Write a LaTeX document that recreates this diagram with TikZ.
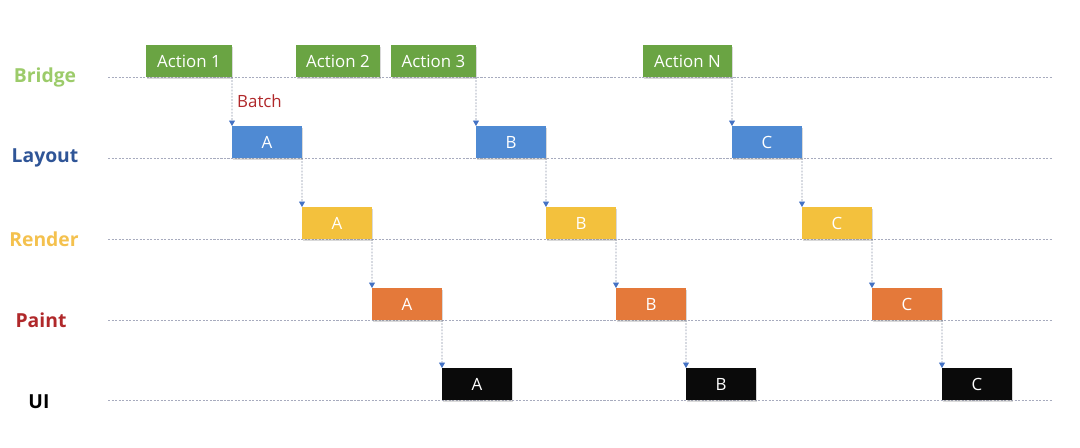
\documentclass[tikz,border=0pt]{standalone}
\usepackage{fontspec}
\setmainfont{Open Sans}
\usetikzlibrary{positioning,arrows.meta,shadows}

\definecolor{actgreen}{HTML}{6AA443}
\definecolor{layblue}{HTML}{4F8AD3}
\definecolor{renyellow}{HTML}{F3C13D}
\definecolor{paintorange}{HTML}{E4793A}
\definecolor{uiblack}{HTML}{0A0A0A}
\definecolor{bridgeclr}{HTML}{9CCB6A}
\definecolor{layoutclr}{HTML}{2F5597}
\definecolor{renderclr}{HTML}{F4C14E}
\definecolor{paintclr}{HTML}{B0282A}
\definecolor{laneclr}{HTML}{A7ABBE}
\definecolor{flowclr}{HTML}{8A93A8}
\definecolor{tipblue}{HTML}{4472C4}

\begin{document}
\begin{tikzpicture}[
  x=0.02cm, y=-0.02cm,
  lane/.style={draw=laneclr, dash pattern=on 1.2pt off 0.8pt, line width=0.45pt},
  job/.style={
    rectangle, anchor=south west,
    minimum width=1.4cm, minimum height=0.64cm,
    inner sep=0pt, outer sep=0pt,
    text=white, font=\fontsize{9.6}{11}\selectfont,
    drop shadow={shadow xshift=0.7pt, shadow yshift=-0.9pt, opacity=0.3}
  },
  act/.style={job, fill=actgreen},
  lay/.style={job, fill=layblue},
  ren/.style={job, fill=renyellow},
  pnt/.style={job, fill=paintorange},
  uibox/.style={job, fill=uiblack},
  tag/.style={font=\fontsize{11}{13}\selectfont\bfseries},
  flow/.style={
    draw=flowclr, dash pattern=on 1pt off 0.8pt, line width=0.45pt,
    -{Triangle[length=1.1mm, width=1.2mm, color=tipblue]}
  }
]
\useasboundingbox (0,0) rectangle (1080,447);

% lanes
\node[tag, text=bridgeclr] (bridge) at (45,77) {Bridge};
\node[tag, text=layoutclr] (layout) at (45,158) {Layout};
\node[tag, text=renderclr] (render) at (44,239) {Render};
\node[tag, text=paintclr] (paint) at (41,320) {Paint};
\node[tag, text=black] (ui) at (39,402) {UI};

\draw[lane] (108,77) -- (1052,77);
\draw[lane] (108,158) -- (1052,158);
\draw[lane] (108,239) -- (1052,239);
\draw[lane] (108,320) -- (1052,320);
\draw[lane] (108,400) -- (1052,400);

% actions
\node[act, minimum width=1.72cm] (act1) at (146,77) {Action 1};
\node[act, minimum width=1.68cm] (act2) at (296,77) {Action 2};
\node[act, minimum width=1.70cm] (act3) at (391,77) {Action 3};
\node[act, minimum width=1.78cm] (actN) at (643,77) {Action N};

% frame A
\node[lay] (layA) at (232,158) {A};
\node[ren] (renA) at (302,239) {A};
\node[pnt] (pntA) at (372,320) {A};
\node[uibox] (uiA) at (442,400) {A};

% frame B
\node[lay] (layB) at (476,158) {B};
\node[ren] (renB) at (546,239) {B};
\node[pnt] (pntB) at (616,320) {B};
\node[uibox] (uiB) at (686,400) {B};

% frame C
\node[lay] (layC) at (732,158) {C};
\node[ren] (renC) at (802,239) {C};
\node[pnt] (pntC) at (872,320) {C};
\node[uibox] (uiC) at (942,400) {C};

\node[anchor=west, text=paintclr, font=\fontsize{9.6}{11}\selectfont] (batch) at (231,101) {Batch};

\draw[flow] (act1.south east) -- (layA.north west);
\draw[flow] (layA.south east) -- (renA.north west);
\draw[flow] (renA.south east) -- (pntA.north west);
\draw[flow] (pntA.south east) -- (uiA.north west);

\draw[flow] (act3.south east) -- (layB.north west);
\draw[flow] (layB.south east) -- (renB.north west);
\draw[flow] (renB.south east) -- (pntB.north west);
\draw[flow] (pntB.south east) -- (uiB.north west);

\draw[flow] (actN.south east) -- (layC.north west);
\draw[flow] (layC.south east) -- (renC.north west);
\draw[flow] (renC.south east) -- (pntC.north west);
\draw[flow] (pntC.south east) -- (uiC.north west);

\end{tikzpicture}
\end{document}
